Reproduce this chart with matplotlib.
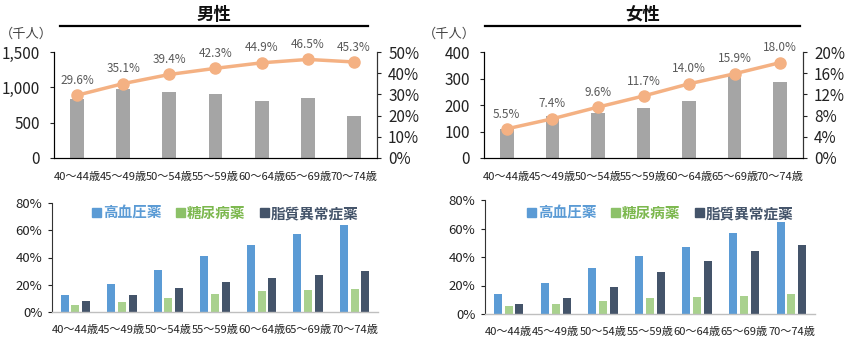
import matplotlib
matplotlib.use("Agg")
import matplotlib.pyplot as plt
from matplotlib.ticker import FuncFormatter
from matplotlib.patches import Patch
import numpy as np

plt.rcParams['font.family'] = ['Noto Sans CJK JP', 'DejaVu Sans']

ages = ["40～44歳", "45～49歳", "50～54歳", "55～59歳", "60～64歳", "65～69歳", "70～74歳"]

male_count = [840, 981, 934, 906, 802, 844, 594]
male_rate = [29.6, 35.1, 39.4, 42.3, 44.9, 46.5, 45.3]
female_count = [111, 157, 169, 190, 215, 318, 288]
female_rate = [5.5, 7.4, 9.6, 11.7, 14.0, 15.9, 18.0]

male_bp = [12.2, 20.4, 31.1, 41.3, 49.4, 57.6, 63.7]
male_dm = [4.9, 7.5, 10.5, 13.1, 15.1, 15.8, 16.8]
male_lip = [7.8, 12.4, 17.8, 21.9, 24.8, 27.5, 30.4]
female_bp = [13.9, 22.1, 32.2, 40.7, 47.3, 56.7, 64.5]
female_dm = [5.9, 7.3, 8.9, 11.1, 12.2, 12.9, 13.9]
female_lip = [6.8, 11.1, 18.8, 29.4, 37.4, 44.5, 48.7]

med_labels = ["高血圧薬", "糖尿病薬", "脂質異常症薬"]
titles = ["男性", "女性"]

W, H = 850, 342
fig = plt.figure(figsize=(W / 100, H / 100), dpi=100)

def box(l, r, t, b):
    return [l / W, 1 - b / H, (r - l) / W, (b - t) / H]

GRAY = "#A5A5A5"
ORANGE = "#F4B183"
BLUE = "#5B9BD5"
GREEN = "#A9D18E"
DARK = "#44546A"
TXT = "#222222"

x = np.arange(len(ages))

def top_chart(rect, counts, rates, ymax, ystep, rmax, rstep, title, tl, tr):
    ax = fig.add_axes(rect)
    ax.bar(x, counts, width=0.3, color=GRAY, zorder=2)
    ax.set_xlim(-0.5, len(ages) - 0.5)
    ax.set_ylim(0, ymax)
    ax.set_yticks(np.arange(0, ymax + 1, ystep))
    ax.yaxis.set_major_formatter(FuncFormatter(lambda v, p: f"{int(v):,}"))
    ax.set_xticks(x)
    ax.set_xticklabels(ages, fontsize=8, color=TXT)
    ax.tick_params(axis='x', length=0, pad=10)
    ax.tick_params(axis='y', labelsize=11, colors=TXT, length=3, width=0.8, pad=7)
    ax.spines['top'].set_visible(False)
    for s in ['left', 'bottom', 'right']:
        ax.spines[s].set_color("#333333")
        ax.spines[s].set_linewidth(0.8)
    ax2 = ax.twinx()
    ax2.plot(x, rates, color=ORANGE, lw=2.5, marker='o', ms=8, zorder=3)
    ax2.set_ylim(0, rmax)
    ax2.set_yticks(np.arange(0, rmax + 0.01, rstep))
    ax2.yaxis.set_major_formatter(FuncFormatter(lambda v, p: f"{v:.0f}%"))
    ax2.tick_params(axis='y', labelsize=11, colors=TXT, length=3, width=0.8, pad=5)
    ax2.spines['top'].set_visible(False)
    ax2.spines['right'].set_color("#333333")
    ax2.spines['right'].set_linewidth(0.8)
    for xi, r in zip(x, rates):
        ax2.annotate(f"{r:.1f}%", (xi, r), xytext=(0, 6), textcoords='offset points',
                     ha='center', va='bottom', fontsize=8.5, color="#595959")
    l, r = tl
    fig.text(((l + r) / 2) / W, 1 - 15 / H, title, ha='center', va='center',
             fontsize=12.5, fontweight='bold', color="#111111")
    fig.add_artist(plt.Line2D([l / W, r / W], [1 - 26 / H, 1 - 26 / H], color='black', lw=1.6))
    fig.text(tr / W, 1 - 34 / H, "（千人）", ha='left', va='center', fontsize=9.5, color="#444444")
    return ax

def bottom_chart(rect, bp, dm, lip, legx):
    ax = fig.add_axes(rect)
    w = 0.17
    off = 0.23
    ax.bar(x - off, bp, width=w, color=BLUE, zorder=2)
    ax.bar(x, dm, width=w, color=GREEN, zorder=2)
    ax.bar(x + off, lip, width=w, color=DARK, zorder=2)
    ax.set_xlim(-0.5, len(ages) - 0.5)
    ax.set_ylim(0, 80)
    ax.set_yticks([0, 20, 40, 60, 80])
    ax.yaxis.set_major_formatter(FuncFormatter(lambda v, p: f"{v:.0f}%"))
    ax.set_xticks(x)
    ax.set_xticklabels(ages, fontsize=8, color=TXT)
    ax.tick_params(axis='x', length=0, pad=9)
    ax.tick_params(axis='y', labelsize=9.5, colors=TXT, length=3, width=0.8, pad=4)
    ax.spines['top'].set_visible(False)
    ax.spines['right'].set_visible(False)
    ax.spines['left'].set_color("#333333")
    ax.spines['left'].set_linewidth(0.8)
    ax.spines['bottom'].set_color("#BFBFBF")
    ax.spines['bottom'].set_linewidth(1.0)
    handles = [Patch(color=c) for c in (BLUE, "#8CC168", DARK)]
    ax.legend(handles, med_labels, loc='center left',
              bbox_to_anchor=(legx / W, 1 - 213 / H), bbox_transform=fig.transFigure,
              ncol=3, frameon=False, handlelength=0.6, handleheight=0.6,
              handletextpad=0.15, columnspacing=1.0, borderpad=0, borderaxespad=0,
              labelcolor=[BLUE, "#7CB84E", DARK], prop={'weight': 'bold', 'size': 10.5})
    return ax

top_chart(box(54, 377, 52, 158), male_count, male_rate, 1500, 500, 50, 10, titles[0], (60, 368), 0)
top_chart(box(484, 803, 52, 158), female_count, female_rate, 400, 100, 20, 4, titles[1], (485, 800), 423)
bottom_chart(box(52, 378, 203, 312), male_bp, male_dm, male_lip, 92)
bottom_chart(box(485, 815, 200, 314), female_bp, female_dm, female_lip, 527)

fig.savefig("out.png", dpi=100, facecolor='white')
